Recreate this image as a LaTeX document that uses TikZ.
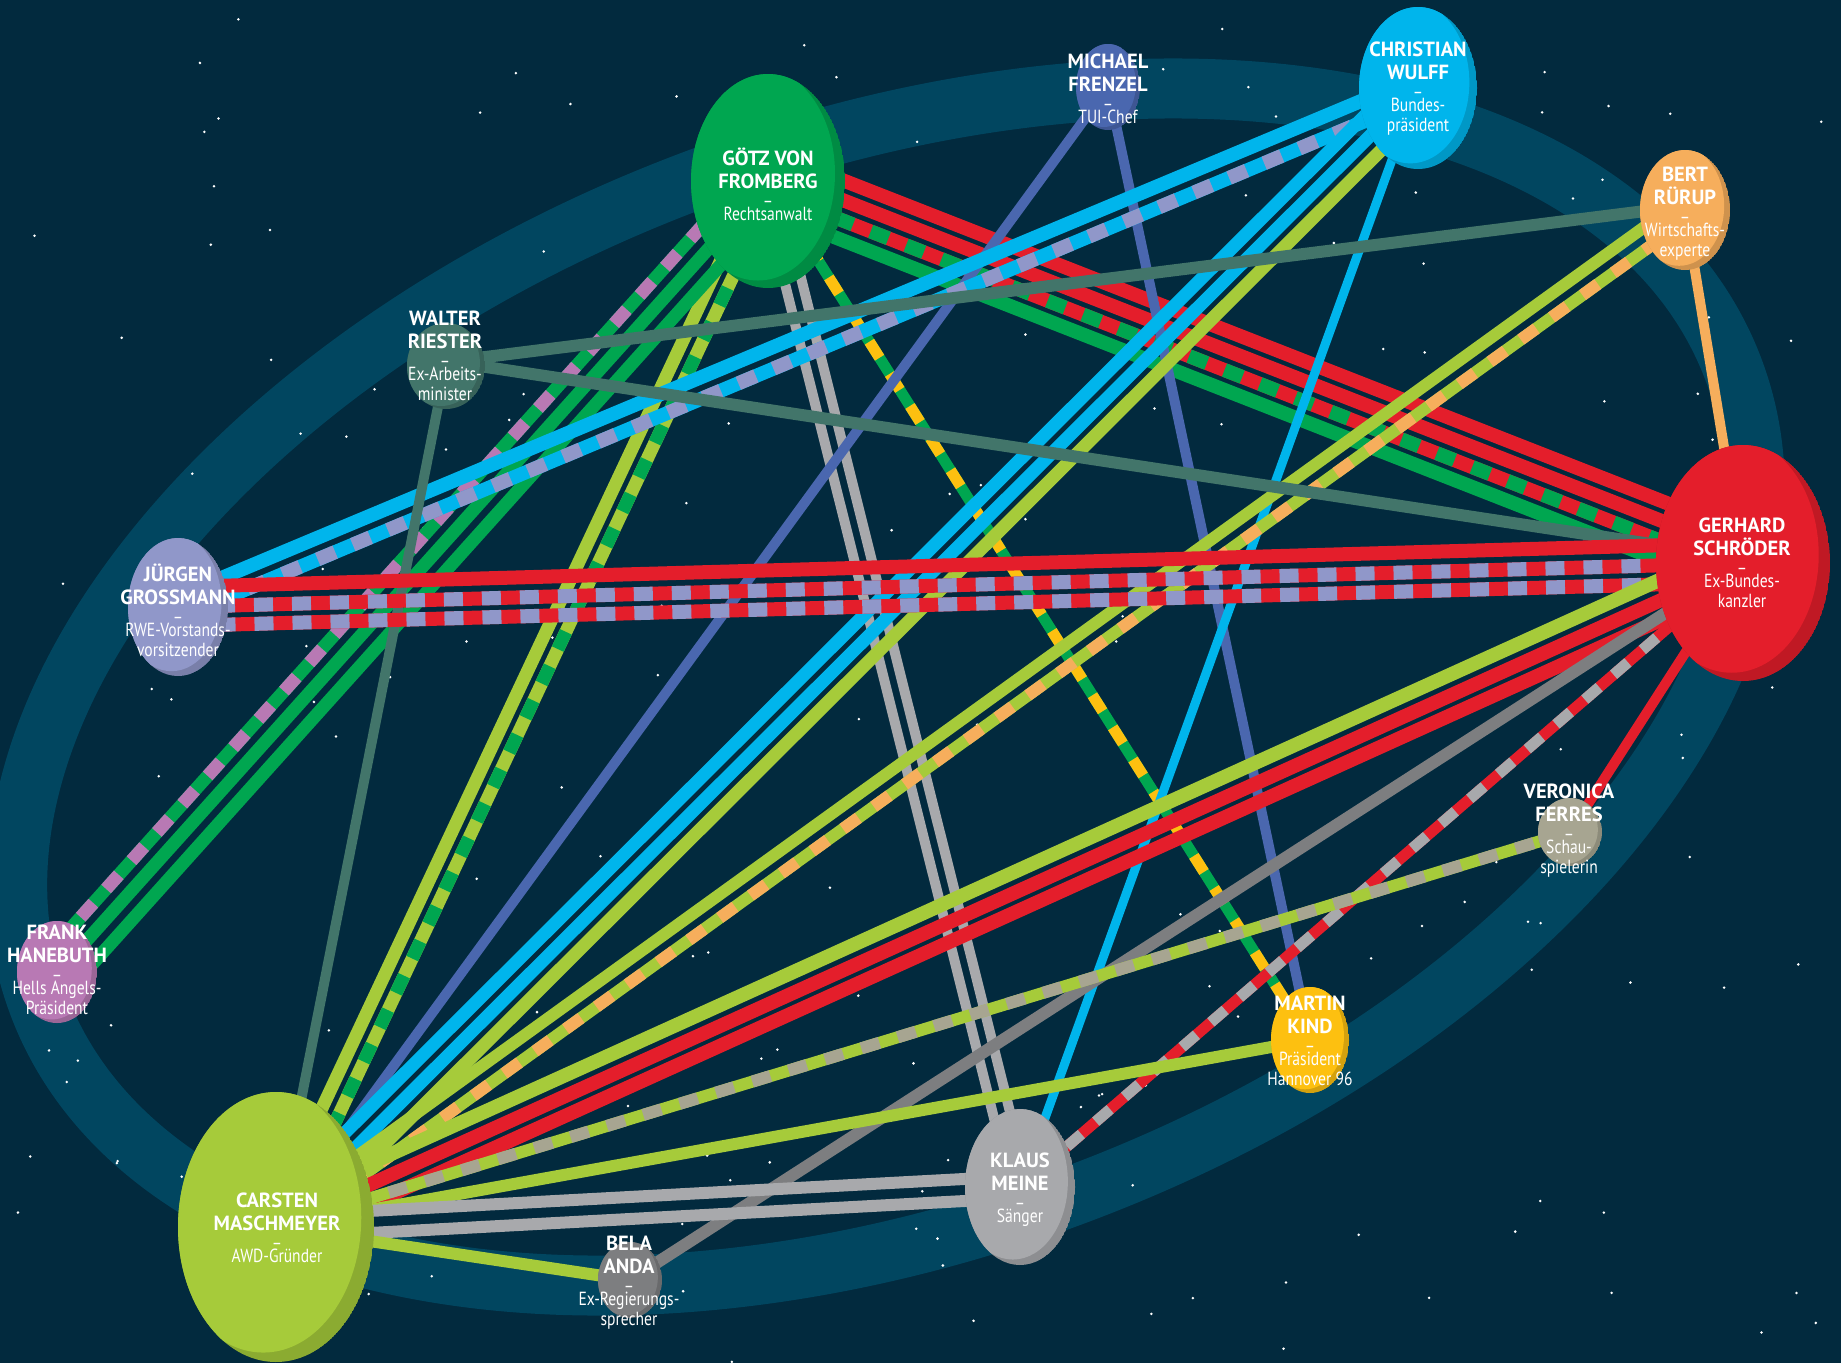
\documentclass[tikz,border=0pt]{standalone}
\usepackage{fontspec}
\setmainfont{PT Sans}
\newfontfamily\namef{PT Sans}
\newfontfamily\subf[FakeStretch=0.82]{PT Sans}
\usepackage{xcolor}
\usetikzlibrary{calc}

\definecolor{bgc}{HTML}{022A3E}
\definecolor{ringc}{HTML}{014660}
\definecolor{cred}{HTML}{E41E2B}
\definecolor{cgreen}{HTML}{00A650}
\definecolor{clime}{HTML}{A6CB3A}
\definecolor{ccyan}{HTML}{00B5EC}
\definecolor{cblue}{HTML}{4A67AF}
\definecolor{corange}{HTML}{F6AE5C}
\definecolor{clav}{HTML}{9097C9}
\definecolor{cteal}{HTML}{42756A}
\definecolor{cpink}{HTML}{B879B4}
\definecolor{cyellow}{HTML}{FDC010}
\definecolor{cgrey}{HTML}{A8A9AC}
\definecolor{cdgrey}{HTML}{7D7E80}
\definecolor{ckhaki}{HTML}{A7A591}

\newcommand\lnk[4][]{\draw[lnk,#1] ($(#2)!#4!90:(#3)$) -- ($(#3)!#4!-90:(#2)$);}
\newcommand\dlnk[6][]{%
  \draw[lnk,#1,#5] ($(#2)!#4!90:(#3)$) -- ($(#3)!#4!-90:(#2)$);
  \draw[lnk,#1,#6,dash pattern=on 19pt off 19pt] ($(#2)!#4!90:(#3)$) -- ($(#3)!#4!-90:(#2)$);}
\newcommand\person[4]{%
  \begin{scope}
    \clip (#1) ellipse [x radius=#2pt, y radius=#3pt];
    \fill[#4!84!black] (#1) ellipse [x radius=#2pt, y radius=#3pt];
    \fill[#4] ([shift={({-0.13*#2},{-0.07*#3})}]#1) ellipse [x radius=#2pt, y radius=#3pt];
  \end{scope}}
\newcommand\nm[1]{{\namef\bfseries\fontsize{20.5}{23}\selectfont #1}}

\begin{document}
\begin{tikzpicture}[x=1pt,y=-1pt,
  lnk/.style={line width=13pt},
  lbl/.style={text=white, align=center, inner sep=0pt, font=\subf\fontsize{19}{23}\selectfont}]
\useasboundingbox (0,0) rectangle (1841,1363);
\fill[bgc] (0,0) rectangle (1841,1363);
\draw[ringc, line width=60pt, rotate around={20.5:(886,687)}] (886,687) ellipse [x radius=905pt, y radius=542pt];
\pgfmathsetseed{17}
\foreach \s in {1,...,190}
  \fill[white] ({rnd*1841},{rnd*1363}) circle (1.4pt);

\coordinate (G) at (768,181);
\coordinate (MF) at (1108,87);
\coordinate (CW) at (1418,88);
\coordinate (BR) at (1685,210);
\coordinate (GS) at (1743,563);
\coordinate (WR) at (446,366);
\coordinate (JG) at (178,607);
\coordinate (FH) at (57,972);
\coordinate (CM) at (276,1227);
\coordinate (BA) at (630,1280);
\coordinate (KM) at (1020,1187);
\coordinate (MK) at (1310,1040);
\coordinate (VF) at (1570,832);

% Fromberg
\lnk[cred,line width=14pt]{G}{GS}{28pt}
\lnk[cred,line width=14pt]{G}{GS}{9.5pt}
\dlnk[line width=14pt]{G}{GS}{-9.5pt}{cred}{cgreen}
\lnk[cgreen,line width=14pt]{G}{GS}{-28pt}
\lnk[clime]{G}{CM}{-9pt}
\dlnk{G}{CM}{9pt}{clime}{cgreen}
\dlnk{G}{FH}{-19pt}{cgreen}{cpink}
\lnk[cgreen]{G}{FH}{1pt}
\lnk[cgreen]{G}{FH}{21pt}
\lnk[cgrey,line width=10pt]{G}{KM}{-8.5pt}
\lnk[cgrey,line width=10pt]{G}{KM}{8.5pt}
\dlnk[line width=11pt]{G}{MK}{0pt}{cgreen}{cyellow}
% Frenzel
\lnk[cblue,line width=10pt]{MF}{CM}{0pt}
\lnk[cblue,line width=10pt]{MF}{MK}{0pt}
% Wulff
\lnk[ccyan,line width=14pt]{CW}{JG}{-10pt}
\dlnk[line width=14pt]{CW}{JG}{10pt}{ccyan}{clav}
\lnk[ccyan]{CW}{CM}{-18pt}
\lnk[ccyan]{CW}{CM}{0pt}
\lnk[clime]{CW}{CM}{18pt}
\lnk[ccyan,line width=9pt]{CW}{KM}{0pt}
% Ruerup
\lnk[clime,line width=12pt]{BR}{CM}{-10pt}
\dlnk[line width=12pt]{BR}{CM}{9pt}{clime}{corange}
\lnk[corange,line width=10pt]{BR}{GS}{0pt}
% Riester
\lnk[cteal,line width=12pt]{WR}{BR}{4pt}
\lnk[cteal,line width=12pt]{WR}{GS}{5pt}
\lnk[cteal,line width=10pt]{WR}{CM}{0pt}
% Grossmann
\lnk[cred,line width=14pt]{JG}{GS}{20pt}
\dlnk[line width=14pt]{JG}{GS}{0pt}{cred}{clav}
\dlnk[line width=14pt]{JG}{GS}{-19pt}{cred}{clav}
% Schroeder
\lnk[clime,line width=14pt]{GS}{CM}{-19pt}
\lnk[cred,line width=14pt]{GS}{CM}{0pt}
\lnk[cred,line width=14pt]{GS}{CM}{18pt}
\lnk[cdgrey,line width=12pt]{GS}{BA}{0pt}
\dlnk[line width=11pt]{GS}{KM}{0pt}{cred}{cgrey}
\lnk[cred,line width=10pt]{GS}{VF}{0pt}
% Maschmeyer
\dlnk[line width=12pt]{VF}{CM}{0pt}{clime}{ckhaki}
\lnk[clime,line width=12pt]{MK}{CM}{0pt}
\lnk[cgrey,line width=12pt]{KM}{CM}{-11pt}
\lnk[cgrey,line width=12pt]{KM}{CM}{11pt}
\lnk[clime,line width=12pt]{BA}{CM}{0pt}

\person{G}{77}{107}{cgreen}
\person{MF}{32}{43}{cblue}
\person{CW}{59}{81}{ccyan}
\person{BR}{45}{60}{corange}
\person{GS}{87}{118}{cred}
\person{WR}{39}{43}{cteal}
\person{JG}{50}{69}{clav}
\person{FH}{40}{51}{cpink}
\person{CM}{98}{135}{clime}
\person{BA}{32}{38}{cdgrey}
\person{KM}{55}{78}{cgrey}
\person{MK}{39}{53}{cyellow}
\person{VF}{32}{34}{ckhaki}

\node[lbl] (Gt) at (768,184) {\nm{GÖTZ VON}\\\nm{FROMBERG}\\[-4pt]–\\[-10pt]Rechtsanwalt};
\node[lbl] (MFt) at (1108,89) {\nm{MICHAEL}\\\nm{FRENZEL}\\[-4pt]–\\[-10pt]TUI-Chef};
\node[lbl] (CWt) at (1418,89) {\nm{CHRISTIAN}\\\nm{WULFF}\\[-4pt]–\\[-10pt]Bundes-\\[-3pt]präsident};
\node[lbl] (BRt) at (1685,214) {\nm{BERT}\\\nm{RÜRUP}\\[-4pt]–\\[-10pt]Wirtschafts-\\[-3pt]experte};
\node[lbl] (GSt) at (1742,563) {\nm{GERHARD}\\\nm{SCHRÖDER}\\[-4pt]–\\[-10pt]Ex-Bundes-\\[-3pt]kanzler};
\node[lbl] (WRt) at (445,356) {\nm{WALTER}\\\nm{RIESTER}\\[-4pt]–\\[-10pt]Ex-Arbeits-\\[-3pt]minister};
\node[lbl] (JGt) at (178,610) {\nm{JÜRGEN}\\\nm{GROSSMANN}\\[-4pt]–\\[-10pt]RWE-Vorstands-\\[-3pt]vorsitzender};
\node[lbl] (FHt) at (57,970) {\nm{FRANK}\\\nm{HANEBUTH}\\[-4pt]–\\[-10pt]Hells Angels-\\[-3pt]Präsident};
\node[lbl] (CMt) at (277,1228) {\nm{CARSTEN}\\\nm{MASCHMEYER}\\[-4pt]–\\[-10pt]AWD-Gründer};
\node[lbl] (BAt) at (629,1283) {\nm{BELA}\\\nm{ANDA}\\[-4pt]–\\[-10pt]Ex-Regierungs-\\[-3pt]sprecher};
\node[lbl] (KMt) at (1020,1190) {\nm{KLAUS}\\\nm{MEINE}\\[-4pt]–\\[-10pt]Sänger};
\node[lbl] (MKt) at (1310,1041) {\nm{MARTIN}\\\nm{KIND}\\[-4pt]–\\[-10pt]Präsident\\[-3pt]Hannover 96};
\node[lbl] (VFt) at (1569,831) {\nm{VERONICA}\\\nm{FERRES}\\[-4pt]–\\[-10pt]Schau-\\[-3pt]spielerin};
\end{tikzpicture}
\end{document}
